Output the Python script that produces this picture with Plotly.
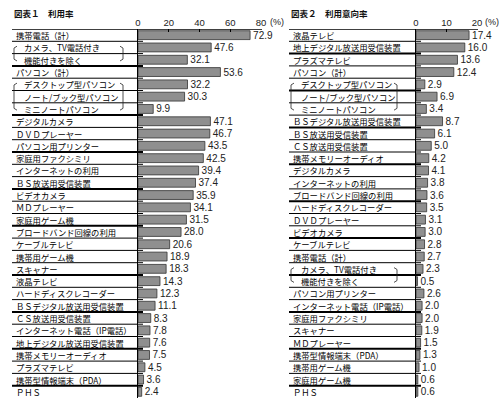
import plotly.graph_objects as go
from plotly.subplots import make_subplots

W, H = 504, 405
FONT = "Noto Sans CJK JP"
NUMFONT = "Liberation Sans"

# 図表1 利用率
use_items = ["携帯電話（計）", "カメラ、TV電話付き", "機能付きを除く", "パソコン（計）",
             "デスクトップ型パソコン", "ノート/ブック型パソコン", "ミニノートパソコン",
             "デジタルカメラ", "ＤＶＤプレーヤー", "パソコン用プリンター", "家庭用ファクシミリ",
             "インターネットの利用", "ＢＳ放送用受信装置", "ビデオカメラ", "ＭＤプレーヤー",
             "家庭用ゲーム機", "ブロードバンド回線の利用", "ケーブルテレビ", "携帯用ゲーム機",
             "スキャナー", "液晶テレビ", "ハードディスクレコーダー", "ＢＳデジタル放送用受信装置",
             "ＣＳ放送用受信装置", "インターネット電話（IP電話）", "地上デジタル放送用受信装置",
             "携帯メモリーオーディオ", "プラズマテレビ", "携帯型情報端末（PDA）", "ＰＨＳ"]
use_rate = [72.9, 47.6, 32.1, 53.6, 32.2, 30.3, 9.9, 47.1, 46.7, 43.5, 42.5, 39.4, 37.4, 35.9,
            34.1, 31.5, 28.0, 20.6, 18.9, 18.3, 14.3, 12.3, 11.1, 8.3, 7.8, 7.6, 7.5, 4.5, 3.6, 2.4]
use_groups = [(1, 2), (4, 6)]

# 図表2 利用意向率
intent_items = ["液晶テレビ", "地上デジタル放送用受信装置", "プラズマテレビ", "パソコン（計）",
                "デスクトップ型パソコン", "ノート/ブック型パソコン", "ミニノートパソコン",
                "ＢＳデジタル放送用受信装置", "ＢＳ放送用受信装置", "ＣＳ放送用受信装置",
                "携帯メモリーオーディオ", "デジタルカメラ", "インターネットの利用",
                "ブロードバンド回線の利用", "ハードディスクレコーダー", "ＤＶＤプレーヤー",
                "ビデオカメラ", "ケーブルテレビ", "携帯電話（計）", "カメラ、TV電話付き",
                "機能付きを除く", "パソコン用プリンター", "インターネット電話（IP電話）",
                "家庭用ファクシミリ", "スキャナー", "ＭＤプレーヤー", "携帯型情報端末（PDA）",
                "携帯用ゲーム機", "家庭用ゲーム機", "ＰＨＳ"]
intent_rate = [17.4, 16.0, 13.6, 12.4, 2.9, 6.9, 3.4, 8.7, 6.1, 5.0, 4.2, 4.1, 3.8, 3.6, 3.5,
               3.1, 3.0, 2.8, 2.7, 2.3, 0.5, 2.6, 2.0, 2.0, 1.9, 1.5, 1.3, 1.0, 0.6, 0.6]
intent_groups = [(4, 6), (19, 20)]

use_ticks = [0, 20, 40, 60, 80]
intent_ticks = [0, 10, 20]


def px(x):
    return x / W


fig = make_subplots(rows=1, cols=2)

panels = [
    dict(title="図表１　利用率", items=use_items, vals=use_rate, groups=use_groups,
         ticks=use_ticks, x0=12, lab=14, ax0=138, ax1=261, br=123, pct=277,
         thick=[-1, 2, 6, 9, 12, 15, 19, 22, 25, 28]),
    dict(title="図表２　利用意向率", items=intent_items, vals=intent_rate, groups=intent_groups,
         ticks=intent_ticks, x0=289, lab=291, ax0=416, ax1=477, br=397, pct=492,
         thick=[-1, 1, 4, 7, 10, 13, 16, 19, 22, 25, 28]),
]

ydom = [1 - 398 / H, 1 - 29 / H]
shapes = []
annots = []

for k, p in enumerate(panels):
    col = k + 1
    n = len(p["items"])
    rows = list(range(n))
    fig.add_trace(go.Bar(
        x=p["vals"], y=rows, orientation="h", width=0.72,
        marker=dict(color="#8f8f8f", line=dict(color="#333333", width=0.8)),
        text=[f"{v:.1f}" for v in p["vals"]], textposition="outside",
        textfont=dict(family=NUMFONT, size=10, color="#222222"),
        constraintext="none", cliponaxis=False, hoverinfo="skip", showlegend=False,
    ), row=1, col=col)

    xa = "xaxis" if k == 0 else "xaxis2"
    ya = "yaxis" if k == 0 else "yaxis2"
    yref = "y" if k == 0 else "y2"
    fig.update_layout(**{
        xa: dict(domain=[px(p["ax0"]), px(p["ax1"])], range=[0, p["ticks"][-1]], side="top",
                 tickvals=p["ticks"], ticks="inside", ticklen=3, tickcolor="#000",
                 showline=False, showgrid=False, zeroline=False, automargin=False,
                 tickfont=dict(family=NUMFONT, size=9.5, color="#222")),
        ya: dict(domain=ydom, range=[n - 0.5, -0.5], showline=True, linecolor="#000",
                 linewidth=1, showticklabels=False, ticks="", showgrid=False, zeroline=False,
                 automargin=False),
    })

    # title and (%)
    annots.append(dict(text="<b>" + p["title"] + "</b>", x=px(p["lab"] - 2), y=1 - 13.5 / H,
                       xref="paper", yref="paper", xanchor="left", yanchor="middle",
                       showarrow=False, font=dict(family=FONT, size=8.5, color="#111")))
    annots.append(dict(text="(%)", x=px(p["pct"]), y=1 - 22 / H, xref="paper", yref="paper",
                       xanchor="center", yanchor="middle", showarrow=False,
                       font=dict(family=NUMFONT, size=9, color="#222")))

    sub = set()
    for a, b in p["groups"]:
        sub.update(range(a, b + 1))

    # labels
    for i, name in enumerate(p["items"]):
        x = p["lab"] + (8 if i in sub else 0)
        annots.append(dict(text=name, x=px(x), y=i, xref="paper", yref=yref,
                           xanchor="left", yanchor="middle", showarrow=False,
                           font=dict(family=FONT, size=8.3, color="#000")))

    # top line
    shapes.append(dict(type="line", xref="paper", yref=yref, x0=px(p["x0"]), x1=px(p["ax1"] + 1),
                       y0=-0.5, y1=-0.5, line=dict(color="#000", width=1.6)))
    # row separators
    for i in range(n - 1):
        w = 2 if i in p["thick"] else 1
        shapes.append(dict(type="line", xref="paper", yref=yref, x0=px(p["x0"]),
                           x1=px(p["ax0"] + 5), y0=i + 0.5, y1=i + 0.5,
                           line=dict(color="#000", width=w)))

    # brackets
    for a, b in p["groups"]:
        lx, rx = p["lab"], p["br"]
        shapes.append(dict(type="path", xref="paper", yref=yref,
                           path=f"M {px(lx + 3)},{a - 0.1} L {px(lx)},{a + 0.05} "
                                f"L {px(lx)},{b - 0.05} L {px(lx + 3)},{b + 0.1}",
                           line=dict(color="#222", width=0.8)))
        shapes.append(dict(type="path", xref="paper", yref=yref,
                           path=f"M {px(rx - 3)},{a - 0.1} L {px(rx)},{a + 0.05} "
                                f"L {px(rx)},{b - 0.05} L {px(rx - 3)},{b + 0.1}",
                           line=dict(color="#222", width=0.8)))

fig.update_layout(
    width=W, height=H, margin=dict(l=0, r=0, t=0, b=0),
    paper_bgcolor="white", plot_bgcolor="white",
    shapes=shapes, annotations=annots, bargap=0.28,
    font=dict(family=FONT),
)

# the page body has an 8px margin by default; drop it so the figure sits at 0,0
fig.write_html("out.html", config={"displayModeBar": False},
               post_script="document.body.style.margin='0';")
